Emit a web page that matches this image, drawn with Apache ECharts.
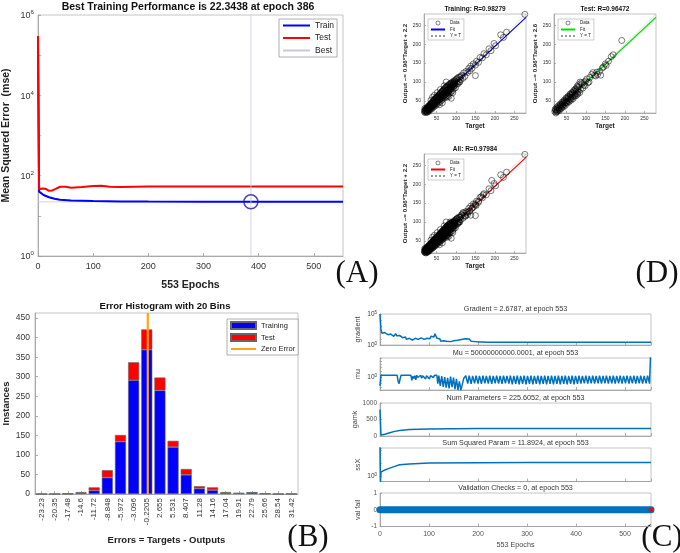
<!DOCTYPE html>
<html>
<head>
<meta charset="utf-8">
<script src="https://cdn.jsdelivr.net/npm/echarts@6/dist/echarts.min.js"></script>
<style>html,body{margin:0;padding:0;background:#fff}#main{width:680px;height:553px}</style>
</head>
<body>
<div id="main"></div>
<script>
// (A) performance curves, [epoch, mse]
var perfTrain = [[0,3e5],[2,40],[5,37],[10,33],[20,29],[30,26.5],[40,25],[60,24.2],[100,23.4],[150,22.9],[200,22.6],[300,22.4],[386,22.34],[553,22.3]];
var perfTest = [[0,3e5],[2,46],[8,48],[14,47],[20,42],[26,43],[32,47],[40,53],[50,53],[60,50],[80,52],[100,55],[115,56],[130,53],[150,52],[200,54],[300,54],[553,54]];
var bestEpoch = 386;
var bestPerf = 22.3438;

// (D) regression, [target, output]
var regTrain = [[19,21],[20,24],[21,19],[22,26],[23,22],[24,20],[24,28],[25,25],[26,22],[26,31],[27,27],[28,24],[28,33],[29,29],[30,26],[30,35],[31,31],[32,28],[32,37],[33,33],[34,30],[34,39],[35,35],[36,32],[36,42],[37,37],[38,34],[38,44],[39,39],[40,35],[40,47],
  [41,41],[42,38],[42,49],[43,44],[44,40],[44,52],[45,46],[46,41],[46,55],[47,48],[48,44],[48,57],[49,51],[50,45],[50,59],[51,53],[52,48],[52,61],[53,55],[54,50],[54,63],[55,57],[56,52],[56,65],[57,59],[58,53],[58,67],[59,61],[60,55],[60,70],[61,63],[62,57],[62,72],[63,65],[64,59],[64,74],[65,67],[66,60],[66,77],[67,69],[68,62],[68,79],[69,71],[70,64],[70,80],
  [71,72],[72,66],[72,83],[73,74],[74,68],[74,86],[75,76],[76,70],[76,88],[77,78],[78,60],[78,72],[78,90],[80,80],[80,73],[81,92],[82,76],[83,84],[84,78],[84,95],[85,86],[86,80],[87,97],[88,57],[88,89],[89,83],[90,99],[91,92],[92,86],[93,101],[94,95],[95,89],[96,104],[97,98],[98,92],[100,106],[101,100],[103,96],[104,110],[106,104],[108,100],[110,112],[112,106],
  [20,30],[21,27],[23,17],[25,32],[27,20],[29,36],[31,23],[33,41],[35,27],[37,44],[39,30],[41,50],[43,34],[45,54],[47,37],[49,58],[51,41],[53,62],[55,44],[57,66],[59,48],[61,70],[63,51],[65,75],[67,55],[69,78],[71,58],[73,82],[75,62],[77,85],[79,65],[81,88],[83,70],[85,93],[87,73],[89,96],[91,77],[93,98],[95,82],[97,102],[99,85],[102,108],[105,95],[107,113],[110,100],[113,115],
  [22,23],[25,27],[28,29],[31,33],[34,36],[37,39],[40,41],[43,46],[46,47],[49,48],[52,53],[55,55],[58,59],[61,61],[64,65],[67,66],[70,71],[73,72],[76,77],[79,79],[82,82],[85,84],[88,87],[91,90],[94,93],[97,96],[60,80],[65,45],[70,90],[45,65],[75,100],[52,72],[58,40],[82,62],[92,72],[36,52],[40,60],
  [115,118],[118,110],[120,124],[123,115],[126,128],[130,125],[133,136],[136,130],[138,142],[141,136],[145,148],[150,117],[150,145],[153,155],[158,152],[162,165],[168,164],[172,175],[178,172],[185,188],[190,183],[198,202],[202,196],[215,225],[222,218],[230,232],[277,279]];
var regTest = [[20,22],[22,26],[24,21],[26,30],[28,25],[30,33],[31,28],[33,38],[35,31],[36,40],[38,35],[40,44],[41,38],[43,48],[45,41],[46,50],[48,45],[50,55],[51,47],[53,58],[55,50],[56,61],[58,54],[60,65],[61,56],[63,68],[65,60],[66,72],[68,63],[70,75],[72,66],[74,80],[76,70],[78,84],[80,74],[82,88],[85,100],[86,80],[90,95],[95,92],[100,103],[105,98],[110,112],
  [21,28],[23,18],[25,33],[27,22],[29,37],[32,25],[34,42],[37,30],[39,47],[42,34],[44,52],[47,38],[49,58],[52,44],[54,62],[57,48],[59,68],[62,52],[64,72],[67,56],[69,78],[71,62],[73,82],[75,64],[77,88],[79,68],[81,93],[84,72],[88,98],[92,84],[96,100],[98,90],[102,108],[108,100],
  [25,26],[30,30],[35,36],[40,40],[45,45],[50,50],[55,56],[60,60],[65,66],[70,70],[75,76],[80,80],
  [115,120],[118,125],[122,118],[125,116],[128,126],[130,120],[135,128],[138,118],[142,137],[145,140],[150,148],[152,144],[158,155],[165,167],[170,172],[192,210]];
var fitTrain = [[18,19.5],[280,271]];
var fitTest = [[18,19.9],[280,271.4]];
var fitAll = [[18,19.5],[280,271]];
var identity = [[18,18],[280,280]];

// (B) error histogram
var binLabels = ['-23.23','-20.35','-17.48','-14.6','-11.72','-8.848','-5.972','-3.096','-0.2205','2.655','5.531','8.407','11.28','14.16','17.04','19.91','22.79','25.66','28.54','31.42'];
var histTrain = [0,0,0,3,9,42,134,291,369,265,120,49,14,10,3,2,4,1,0,0];
var histTest = [0,0,2,2,8,19,17,46,52,33,16,15,6,7,2,0,0,0,0,0];

// (C) training state, [epoch, value]
var gradData = [[0,1e5],[1,5e3],[2,300],[4,80],[6,120],[8,60],[10,100],[12,50],[14,90],[16,45],[18,70],[20,35],[22,60],[24,30],[26,55],[28,25],[30,45],[32,70],[34,30],[36,50],[38,20],[40,35],[42,18],[44,30],[46,15],[48,25],[50,12],[52,20],[54,8],[56,15],[58,6],[60,12],[62,7],[64,14],[66,6],[68,11],[70,5],[72,12],[74,7],[76,15],[78,8],[80,13],[82,6],[84,14],[86,9],[88,18],[90,8],[92,15],[94,6],[96,12],[98,9],[100,20],[102,10],[104,25],[106,12],[108,35],[110,20],[112,65],[114,30],[116,12],[118,20],[120,6],[122,10],[124,4],[126,7],[128,3.5],[130,5],[133,3],[136,4],[140,2.8],[145,3.5],[150,5],[154,3],[158,6],[162,3.5],[166,8],[170,4],[174,10],[178,5],[182,9],[186,4],[190,8],[194,3.5],[198,7],[202,3],[206,6],[210,3],[214,4.5],[218,2.8],[222,2.68],[553,2.68]];
var muData = [[0,0.002],[2,4],[35,4],[37,0.05],[39,0.01],[41,0.3],[43,4],[63,4],[65,0.1],[67,2],[69,0.4],[71,3],[73,0.15],[75,4],[77,0.8],[79,3],[81,0.2],[83,4],[85,0.5],[87,3],[89,1],[91,4],[93,0.3],[95,3],[97,1],[99,4],[101,0.3],[103,3],[105,1.5],[107,4],[109,0.7],[111,4],[116,4],[118,0.01],[120,3],[123,0.002],[126,2],[129,0.001],[132,1],[135,0.0005],[138,0.6],[141,0.0003],[144,1.5],[147,0.0008],[150,0.8],[153,0.0002],[156,0.3],[159,0.0001],[162,0.05],[165,0.00008],[168,0.00005],[171,0.5],[175,3],
  [179,0.01],[182,3],[186,0.008],[189,2.5],[193,0.012],[196,3],[200,0.01],[203,2.5],[207,0.008],[210,3],[214,0.012],[217,2.5],[221,0.01],[224,3],[228,0.008],[231,2.5],[235,0.012],[238,3],[242,0.01],[245,2.5],[249,0.008],[252,3],[256,0.012],[259,2.5],[263,0.01],[266,3],[270,0.006],[273,2.5],[277,0.008],[280,3],[284,0.006],[287,2.5],[291,0.008],[294,3],[298,0.006],[301,2.5],[305,0.008],[308,3],[312,0.006],[315,2.5],[319,0.008],[322,3],[326,0.006],[329,2.5],[333,0.008],[336,3],[340,0.006],[343,2.5],[347,0.008],[350,3],[354,0.006],[357,2.5],[361,0.008],[364,3],[368,0.006],[371,2.5],[375,0.008],[378,3],[382,0.006],[385,2.5],[389,0.008],[392,3],[396,0.006],[399,2.5],[403,0.008],[406,3],[410,0.01],[413,2.5],[417,0.012],[420,3],[424,0.01],[427,2.5],[431,0.012],[434,3],[438,0.01],[441,2.5],[445,0.012],[448,3],[452,0.01],[455,2.5],[459,0.012],[462,3],[466,0.01],[469,2.5],[473,0.012],[476,3],[480,0.01],[483,2.5],[487,0.012],[490,3],[494,0.01],[497,2.5],[501,0.012],[504,3],[508,0.01],[511,2.5],[515,0.012],[518,3],[522,0.01],[525,2.5],[529,0.012],[532,3],[536,0.01],[539,2.5],[543,0.012],[546,3],[550,0.01],[553,5e10]];
var gamkData = [[0,800],[1,800],[2,30],[5,35],[10,55],[20,100],[30,140],[40,170],[60,195],[100,214],[150,221],[200,224],[300,225],[553,225.6]];
var ssxData = [[0,200],[1,0.4],[2,2.2],[10,3.2],[20,4.4],[30,6],[40,7.9],[60,9.2],[100,10.6],[200,11.5],[300,11.8],[553,11.89]];
var valFail = [[0,0],[553,0]];
var valLast = [[553,0]];

var FONT = 'Liberation Sans';
var TXT = '#333';
var AX = '#9a9a9a';

function supLabel(e) { return '{b|10}{e|' + e + '}'; }
function logFmt(show) {
  return function (v) {
    var e = Math.log(v) / Math.LN10;
    if (Math.abs(e - Math.round(e)) > 1e-6) return '';
    e = Math.round(e);
    return show.indexOf(e) >= 0 ? supLabel(e) : '';
  };
}
function richSup(fs) {
  return { b: { fontSize: fs, color: TXT, verticalAlign: 'bottom' }, e: { fontSize: fs * 0.68, color: TXT, verticalAlign: 'bottom', padding: [0, 0, fs * 0.5, 0] } };
}
function ax(o) {
  var base = {
    splitLine: { show: false },
    axisLine: { show: true, onZero: false, lineStyle: { color: AX, width: 0.8 } },
    axisTick: { show: true, inside: true, length: 3, lineStyle: { color: AX, width: 0.8 } },
    axisLabel: { color: TXT, fontFamily: FONT },
    nameLocation: 'middle',
    nameTextStyle: { color: '#222', fontFamily: FONT }
  };
  for (var k in o) {
    if (typeof o[k] === 'object' && base[k] && !Array.isArray(o[k])) {
      for (var j in o[k]) base[k][j] = o[k][j];
    } else base[k] = o[k];
  }
  return base;
}
function gridBox(l, t, w, h) {
  return { left: l, top: t, width: w, height: h, show: true, borderColor: '#b5b5b5', borderWidth: 0.8, backgroundColor: '#fff' };
}
var noSym = { opacity: 0 };
function lineItem(name) { return { name: name, itemStyle: noSym }; }
function smallLegend(tag, left, top) {
  return {
    data: [{ name: 'Data|' + tag, icon: 'circle', itemStyle: { color: 'rgba(0,0,0,0)', borderColor: '#000', borderWidth: 0.6 } },
      lineItem('Fit|' + tag), lineItem('Y = T|' + tag)],
    formatter: function (n) { return n.split('|')[0]; },
    left: left, top: top, orient: 'vertical', itemWidth: 14, itemHeight: 4, itemGap: 1.5,
    padding: [1.5, 3, 1.5, 2], textStyle: { fontSize: 4.5, color: '#222', fontFamily: FONT },
    borderColor: '#999', borderWidth: 0.5, backgroundColor: '#fff', selectedMode: false
  };
}

var binW = (parseFloat(binLabels[binLabels.length - 1]) - parseFloat(binLabels[0])) / (binLabels.length - 1);
var binMin = parseFloat(binLabels[0]) - binW / 2;
var binMax = parseFloat(binLabels[binLabels.length - 1]) + binW / 2;

var cGrids = [[314, 31], [358, 32], [403, 33], [448, 33.5], [493, 33.5]];
var cTitles = ['Gradient = 2.6787, at epoch 553', 'Mu = 50000000000.0001, at epoch 553', 'Num Parameters = 225.6052, at epoch 553', 'Sum Squared Param = 11.8924, at epoch 553', 'Validation Checks = 0, at epoch 553'];

var grids = [
  gridBox(33, 15, 310, 241),
  gridBox(424, 14, 102, 99),
  gridBox(554, 14, 102, 99),
  gridBox(424, 154, 102, 99),
  gridBox(31, 313, 267, 181)
];
cGrids.forEach(function (g) { grids.push(gridBox(380, g[0], 271, g[1])); });

var regX = function (gi) {
  return ax({ gridIndex: gi, type: 'value', min: 18, max: 280, splitNumber: 5,
    axisLabel: { fontSize: 5, margin: 3, showMinLabel: false, showMaxLabel: false },
    axisTick: { length: 2 },
    name: 'Target', nameGap: 10, nameTextStyle: { fontSize: 6.5, fontWeight: 'bold' } });
};
var regY = function (gi, nm) {
  return ax({ gridIndex: gi, type: 'value', min: 18, max: 280, splitNumber: 5,
    axisLabel: { fontSize: 5, margin: 3, showMinLabel: false, showMaxLabel: false },
    axisTick: { length: 2 },
    name: nm, nameGap: 16, nameTextStyle: { fontSize: 6.2, fontWeight: 'bold' } });
};

var xAxes = [
  ax({ gridIndex: 0, type: 'value', min: 0, max: 553, axisLabel: { fontSize: 9, margin: 6, showMaxLabel: false },
    name: '553 Epochs', nameGap: 24, nameTextStyle: { fontSize: 10.5, fontWeight: 'bold' } }),
  regX(1), regX(2), regX(3),
  ax({ gridIndex: 4, type: 'category', data: binLabels,
    axisTick: { alignWithLabel: true },
    axisLabel: { rotate: 90, interval: 0, fontSize: 8, margin: 4 },
    name: 'Errors = Targets - Outputs', nameGap: 41, nameTextStyle: { fontSize: 9.5, fontWeight: 'bold' } })
];
for (var i = 0; i < 5; i++) {
  var last = i === 4;
  xAxes.push(ax({ gridIndex: 5 + i, type: 'value', min: 0, max: 553,
    axisLabel: { show: last, fontSize: 7, margin: 4, showMaxLabel: false, color: '#555' },
    name: last ? '553 Epochs' : '', nameGap: 15, nameTextStyle: { fontSize: 7.2, color: '#444' } }));
}
xAxes.push({ gridIndex: 4, type: 'value', min: binMin, max: binMax, show: false });

var cY = function (gi, o) {
  var base = { gridIndex: gi, nameGap: 18, nameTextStyle: { fontSize: 7.2, color: '#444' },
    axisLabel: { fontSize: 6.5, margin: 3, color: '#555', formatter: function (v) { return String(v); } }, axisTick: { length: 2 } };
  for (var k in o) base[k] = o[k];
  return ax(base);
};

var yAxes = [
  ax({ gridIndex: 0, type: 'log', logBase: 10, min: 1, max: 1e6,
    axisLabel: { fontSize: 9, margin: 4, formatter: logFmt([0, 2, 4, 6]), rich: richSup(9) },
    name: 'Mean Squared Error  (mse)', nameGap: 26, nameTextStyle: { fontSize: 10.5, fontWeight: 'bold' } }),
  regY(1, 'Output ~= 0.96*Target + 2.2'),
  regY(2, 'Output ~= 0.96*Target + 2.6'),
  regY(3, 'Output ~= 0.96*Target + 2.2'),
  ax({ gridIndex: 4, type: 'value', min: 0, max: 463, interval: 50,
    axisLabel: { fontSize: 8.5, margin: 5, showMaxLabel: false },
    name: 'Instances', nameGap: 24, nameTextStyle: { fontSize: 9.5, fontWeight: 'bold' } }),
  cY(5, { type: 'log', logBase: 10, min: 1, max: 1e5, name: 'gradient',
    axisLabel: { fontSize: 6.5, margin: 3, color: '#555', formatter: logFmt([0, 5]), rich: richSup(6.5) } }),
  cY(6, { type: 'log', logBase: 10, min: 1e-4, max: 1e6, name: 'mu',
    axisLabel: { fontSize: 6.5, margin: 3, color: '#555', formatter: logFmt([0]), rich: richSup(6.5) } }),
  cY(7, { type: 'value', min: 0, max: 1000, interval: 500, name: 'gamk' }),
  cY(8, { type: 'log', logBase: 10, min: 0.42, max: 151, splitNumber: 2, name: 'ssX',
    axisLabel: { fontSize: 6.5, margin: 3, color: '#555', formatter: logFmt([0]), rich: richSup(6.5) } }),
  cY(9, { type: 'value', min: -1, max: 1, interval: 1, name: 'val fail' })
];

var BLUE = '#0000ff', RED = '#ff0000', MB = '#0072bd';
function ln(name, xi, data, color, width, extra) {
  var s = { name: name, type: 'line', xAxisIndex: xi, yAxisIndex: xi, data: data, symbol: 'none',
    lineStyle: { color: color, width: width }, itemStyle: { color: color }, silent: true };
  for (var k in extra) s[k] = extra[k];
  return s;
}
function scatterSet(tag, gi, pts, fit, fitColor) {
  return [
    ln('Y = T|' + tag, gi, identity, '#9a9a9a', 0.6, { lineStyle: { color: '#9a9a9a', width: 0.6, type: 'dotted' } }),
    ln('Fit|' + tag, gi, fit, fitColor, 1.2),
    { name: 'Data|' + tag, type: 'scatter', xAxisIndex: gi, yAxisIndex: gi, data: pts, symbol: 'circle', symbolSize: 6,
      itemStyle: { color: 'rgba(0,0,0,0)', borderColor: '#000', borderWidth: 0.65 }, silent: true, z: 3 }
  ];
}

var series = [
  ln('Train', 0, perfTrain, BLUE, 2),
  ln('Test', 0, perfTest, RED, 2),
  ln('Best', 0, [[bestEpoch, 1], [bestEpoch, 1e6]], '#c6c9de', 0.8),
  ln('', 0, [[0, bestPerf], [553, bestPerf]], '#c6c9de', 0.8, { z: 1 }),
  { type: 'scatter', xAxisIndex: 0, yAxisIndex: 0, data: [[bestEpoch, bestPerf]], symbol: 'circle', symbolSize: 14,
    itemStyle: { color: 'rgba(0,0,0,0)', borderColor: '#1a1aa8', borderWidth: 1.5 }, silent: true, z: 5 }
];
series = series.concat(scatterSet('tr', 1, regTrain, fitTrain, BLUE));
series = series.concat(scatterSet('te', 2, regTest, fitTest, '#00e000'));
series = series.concat(scatterSet('al', 3, regTrain.concat(regTest), fitAll, RED));
series.push(
  { name: 'Training', type: 'bar', stack: 'h', xAxisIndex: 4, yAxisIndex: 4, data: histTrain, barWidth: '84%',
    itemStyle: { color: BLUE, borderColor: '#666', borderWidth: 0.6 }, silent: true },
  { name: 'Test|b', type: 'bar', stack: 'h', xAxisIndex: 4, yAxisIndex: 4, data: histTest, barWidth: '84%',
    itemStyle: { color: RED, borderColor: '#666', borderWidth: 0.6 }, silent: true },
  { name: 'Zero Error', type: 'line', xAxisIndex: 10, yAxisIndex: 4, data: [[0, 0], [0, 463]], symbol: 'none',
    lineStyle: { color: '#ffa31a', width: 2.2 }, itemStyle: { color: '#ffa31a' }, z: 5, silent: true },
  ln('', 5, gradData, MB, 1.5),
  ln('', 6, muData, MB, 1.5),
  ln('', 7, gamkData, MB, 1.5),
  ln('', 8, ssxData, MB, 1.5),
  ln('', 9, valFail, MB, 7, { lineStyle: { color: MB, width: 7, cap: 'round' } }),
  { type: 'scatter', xAxisIndex: 9, yAxisIndex: 9, data: valLast, symbolSize: 5, itemStyle: { color: RED }, z: 5, silent: true }
);

var graphics = [
  { type: 'text', x: 188, y: 7, style: { text: 'Best Training Performance is 22.3438 at epoch 386', font: 'bold 10.5px ' + FONT, fill: '#111', textAlign: 'center', textVerticalAlign: 'middle' } },
  { type: 'text', x: 475, y: 9, style: { text: 'Training: R=0.98279', font: 'bold 6.5px ' + FONT, fill: '#111', textAlign: 'center', textVerticalAlign: 'middle' } },
  { type: 'text', x: 605, y: 9, style: { text: 'Test: R=0.96472', font: 'bold 6.5px ' + FONT, fill: '#111', textAlign: 'center', textVerticalAlign: 'middle' } },
  { type: 'text', x: 475, y: 149, style: { text: 'All: R=0.97984', font: 'bold 6.5px ' + FONT, fill: '#111', textAlign: 'center', textVerticalAlign: 'middle' } },
  { type: 'text', x: 165, y: 306, style: { text: 'Error Histogram with 20 Bins', font: 'bold 9.5px ' + FONT, fill: '#111', textAlign: 'center', textVerticalAlign: 'middle' } }
];
var cTitleY = [309, 353.5, 398.5, 443.5, 488.5];
cTitles.forEach(function (t, i) {
  graphics.push({ type: 'text', x: 515.5, y: cTitleY[i], style: { text: t, font: '7.2px ' + FONT, fill: '#333', textAlign: 'center', textVerticalAlign: 'middle' } });
});
[['(A)', 357, 274], ['(D)', 657, 274], ['(B)', 308, 538], ['(C)', 662, 538]].forEach(function (p) {
  graphics.push({ type: 'text', x: p[1], y: p[2], style: { text: p[0], font: '31px Liberation Serif', fill: '#111', textAlign: 'center', textVerticalAlign: 'middle' } });
});

var chart = echarts.init(document.getElementById('main'));
chart.setOption({
  animation: false,
  backgroundColor: '#fff',
  textStyle: { fontFamily: FONT },
  grid: grids,
  xAxis: xAxes,
  yAxis: yAxes,
  legend: [
    { data: [lineItem('Train'), lineItem('Test'), lineItem('Best')], left: 279, top: 19, orient: 'vertical', itemWidth: 27, itemHeight: 8, itemGap: 3.5,
      padding: [2, 3, 2, 3], textStyle: { fontSize: 8.5, color: '#222' }, borderColor: '#999', borderWidth: 0.8,
      backgroundColor: '#fff', selectedMode: false },
    { data: [{ name: 'Training', icon: 'rect' }, { name: 'Test|b', icon: 'rect' }, lineItem('Zero Error')], formatter: function (n) { return n.split('|')[0]; },
      left: 227, top: 319, orient: 'vertical', itemWidth: 25, itemHeight: 7, itemGap: 3,
      padding: [2, 3, 2, 3], textStyle: { fontSize: 7.5, color: '#222' }, borderColor: '#999', borderWidth: 0.8,
      backgroundColor: '#fff', selectedMode: false },
    smallLegend('tr', 428, 19),
    smallLegend('te', 558, 19),
    smallLegend('al', 428, 159)
  ],
  series: series,
  graphic: graphics
});
</script>
</body>
</html>
